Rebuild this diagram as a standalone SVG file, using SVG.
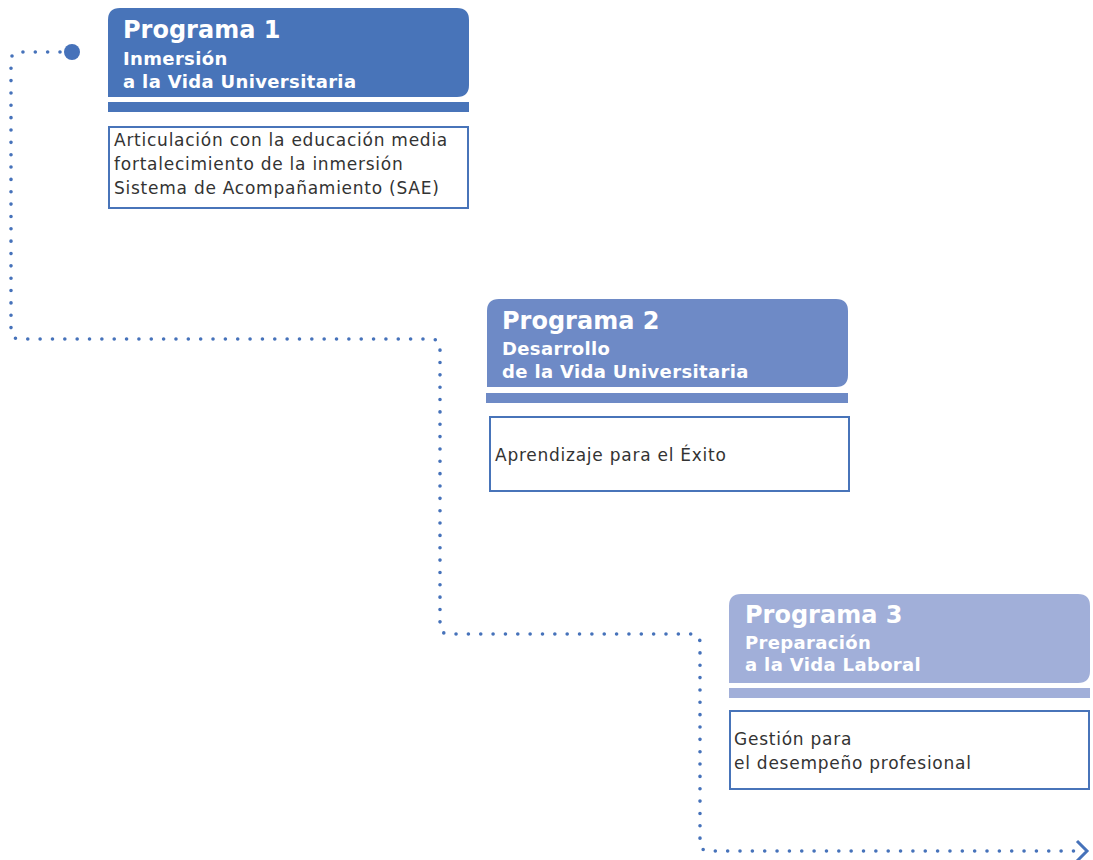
<svg xmlns="http://www.w3.org/2000/svg" width="1093" height="860" viewBox="0 0 1093 860">
<style>
.title{font-family:"DejaVu Sans",sans-serif;font-weight:bold;font-size:24px;fill:#fff}
.sub{font-family:"DejaVu Sans",sans-serif;font-weight:bold;font-size:18px;letter-spacing:0.35px;fill:#fff}
.body{font-family:"DejaVu Sans",sans-serif;font-size:17px;letter-spacing:0.75px;fill:#333}
.box{fill:#fff;stroke-width:2}
.dots{fill:none;stroke:#4672BA;stroke-width:3.6;stroke-linecap:round;stroke-linejoin:round;stroke-dasharray:0 12.35}
</style>
<rect width="1093" height="860" fill="#fff"/>
<g id="connectors">
<circle cx="72" cy="52" r="8" fill="#4672BA"/>
<path class="dots" d="M60,52 H20 Q11,52 11,61 V330 Q11,339 20,339 H431 Q440,339 440,348 V625 Q440,634 449,634 H691 Q700,634 700,643 V842 Q700,851 709,851 H1078"/>
<polyline points="1077,841 1087,851 1077,861" fill="none" stroke="#4672BA" stroke-width="3" stroke-linejoin="miter"/>
</g>
<g id="programa1">
<path d="M108,8 H457 Q469,8 469,20 V85 Q469,97 457,97 H108 V20 Q108,8 120,8 Z" fill="#4874B9"/>
<text class="title" x="123" y="38">Programa 1</text>
<text class="sub" x="123" y="65">Inmersión</text>
<text class="sub" x="123" y="88">a la Vida Universitaria</text>
<rect x="108" y="102" width="361" height="10" fill="#4874B9"/>
<rect class="box" x="109" y="127" width="359" height="81" stroke="#4874B9"/>
<text class="body" x="114" y="146">Articulación con la educación media</text>
<text class="body" x="114" y="170">fortalecimiento de la inmersión</text>
<text class="body" x="114" y="194">Sistema de Acompañamiento (SAE)</text>
</g>
<g id="programa2">
<path d="M487,299 H836 Q848,299 848,311 V375 Q848,387 836,387 H487 V311 Q487,299 499,299 Z" fill="#6E8AC6"/>
<text class="title" x="502" y="329">Programa 2</text>
<text class="sub" x="502" y="355">Desarrollo</text>
<text class="sub" x="502" y="378">de la Vida Universitaria</text>
<rect x="486" y="393" width="362" height="10" fill="#6E8AC6"/>
<rect class="box" x="490" y="417" width="359" height="74" stroke="#4874B9"/>
<text class="body" x="495" y="461">Aprendizaje para el Éxito</text>
</g>
<g id="programa3">
<path d="M729,594 H1078 Q1090,594 1090,606 V671 Q1090,683 1078,683 H729 V606 Q729,594 741,594 Z" fill="#A1AFD9"/>
<text class="title" x="745" y="623">Programa 3</text>
<text class="sub" x="745" y="649">Preparación</text>
<text class="sub" x="745" y="671">a la Vida Laboral</text>
<rect x="729" y="688" width="361" height="10" fill="#A1AFD9"/>
<rect class="box" x="730" y="711" width="359" height="78" stroke="#4874B9"/>
<text class="body" x="734" y="745">Gestión para</text>
<text class="body" x="734" y="769">el desempeño profesional</text>
</g>
</svg>
